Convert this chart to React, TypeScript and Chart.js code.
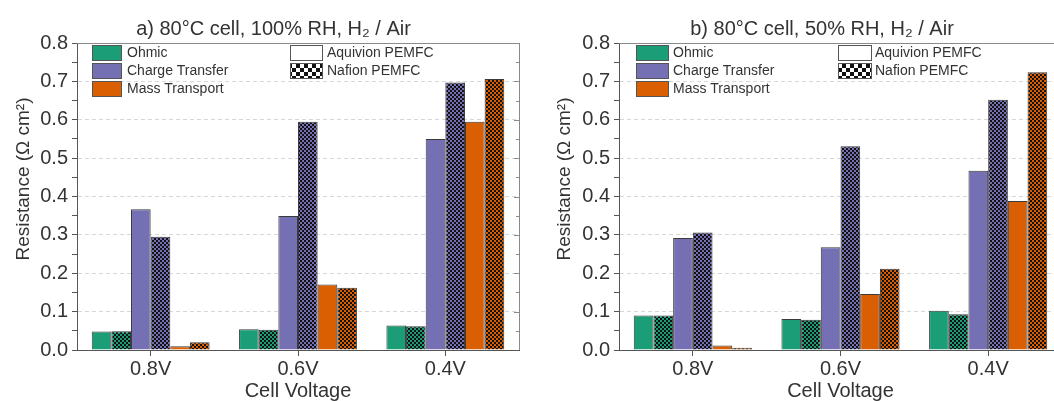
import React, { useEffect, useRef } from "react";
import { Chart, registerables } from "chart.js";

Chart.register(...registerables);

// ---------- data ----------
const categories = ["0.8V", "0.6V", "0.4V"];
const yMin = 0;
const yMax = 0.8;

// Panel a) 80°C, 100% RH
const aOhmicAquivion = [0.048, 0.054, 0.064];
const aOhmicNafion = [0.049, 0.053, 0.062];
const aChargeAquivion = [0.367, 0.349, 0.55];
const aChargeNafion = [0.295, 0.595, 0.697];
const aMassAquivion = [0.01, 0.171, 0.595];
const aMassNafion = [0.02, 0.162, 0.706];

// Panel b) 80°C, 50% RH
const bOhmicAquivion = [0.09, 0.081, 0.102];
const bOhmicNafion = [0.09, 0.079, 0.093];
const bChargeAquivion = [0.292, 0.268, 0.467];
const bChargeNafion = [0.306, 0.531, 0.652];
const bMassAquivion = [0.012, 0.146, 0.388];
const bMassNafion = [0.006, 0.212, 0.724];

const titleA = "a) 80°C cell, 100% RH, H₂ / Air";
const titleB = "b) 80°C cell, 50% RH, H₂ / Air";
const yTitle = "Resistance (Ω cm²)";
const xTitle = "Cell Voltage";
const componentLabels = ["Ohmic", "Charge Transfer", "Mass Transport"];
const membraneLabels = ["Aquivion PEMFC", "Nafion PEMFC"];

const COLORS = ["#1b9e77", "#7570b3", "#d95f02"];
const FONT = "'Liberation Sans', Arial, sans-serif";
const TEXT = "#333333";

function makeChecker(color: string, dark: string, cell: number) {
  const c = document.createElement("canvas");
  c.width = cell * 2;
  c.height = cell * 2;
  const g = c.getContext("2d")!;
  g.fillStyle = color;
  g.fillRect(0, 0, cell * 2, cell * 2);
  g.fillStyle = dark;
  g.fillRect(0, 0, cell, cell);
  g.fillRect(cell, cell, cell, cell);
  return g.createPattern(c, "repeat")!;
}

type Decor = {
  title: string;
  titleX: number;
  yTitleX: number;
  yTitleY: number;
  col1BoxX: number;
  col1BoxW: number;
  col1TextX: number;
  col2BoxX: number;
  col2BoxW: number;
  col2TextX: number;
};

function decorPlugin(d: Decor) {
  return {
    id: "decor",
    afterDraw(chart: any) {
      const ctx = chart.ctx as CanvasRenderingContext2D;
      const ca = chart.chartArea;
      const ys = chart.scales.y;
      ctx.save();
      // frame: top & right
      ctx.strokeStyle = "#8a8a8a";
      ctx.lineWidth = 1;
      ctx.beginPath();
      ctx.moveTo(ca.left, ca.top + 0.5);
      ctx.lineTo(ca.right, ca.top + 0.5);
      ctx.moveTo(ca.right + 0.5, ca.top);
      ctx.lineTo(ca.right + 0.5, ca.bottom);
      ctx.stroke();
      // right inner ticks
      ctx.beginPath();
      for (let i = 1; i < 16; i++) {
        const v = i * 0.05;
        const y = Math.round(ys.getPixelForValue(v)) + 0.5;
        const len = i % 2 === 0 ? 5 : 3;
        ctx.moveTo(ca.right, y);
        ctx.lineTo(ca.right - len, y);
      }
      ctx.stroke();

      ctx.fillStyle = TEXT;
      // title
      ctx.font = `20px ${FONT}`;
      ctx.textAlign = "center";
      ctx.textBaseline = "alphabetic";
      ctx.fillText(d.title, d.titleX, 35);
      // x title
      ctx.fillText(xTitle, (ca.left + ca.right) / 2, 397);
      // y title
      ctx.save();
      ctx.translate(d.yTitleX, d.yTitleY);
      ctx.rotate(-Math.PI / 2);
      ctx.font = `19px ${FONT}`;
      ctx.textBaseline = "middle";
      ctx.fillText(yTitle, 0, 0);
      ctx.restore();

      // legend
      ctx.font = `14px ${FONT}`;
      ctx.textAlign = "left";
      ctx.textBaseline = "middle";
      const rowTop = [45.5, 63.5, 81.5];
      const boxH = 15;
      componentLabels.forEach((lab, i) => {
        ctx.fillStyle = COLORS[i];
        ctx.fillRect(d.col1BoxX, rowTop[i], d.col1BoxW, boxH);
        ctx.strokeStyle = "#555";
        ctx.strokeRect(d.col1BoxX + 0.5, rowTop[i], d.col1BoxW - 1, boxH);
        ctx.fillStyle = TEXT;
        ctx.fillText(lab, d.col1TextX, rowTop[i] + boxH / 2 + 0.5);
      });
      membraneLabels.forEach((lab, i) => {
        if (i === 0) {
          ctx.fillStyle = "#ffffff";
        } else {
          ctx.fillStyle = makeChecker("#ffffff", "#111111", 4) as any;
        }
        ctx.fillRect(d.col2BoxX, rowTop[i], d.col2BoxW, boxH);
        ctx.strokeStyle = "#555";
        ctx.strokeRect(d.col2BoxX + 0.5, rowTop[i], d.col2BoxW - 1, boxH);
        ctx.fillStyle = TEXT;
        ctx.fillText(lab, d.col2TextX, rowTop[i] + boxH / 2 + 0.5);
      });
      ctx.restore();
    },
  };
}

function buildChart(
  canvas: HTMLCanvasElement,
  series: number[][],
  decor: Decor,
  yAxisWidth: number,
  rightPad: number
) {
  const patterns = COLORS.map((c) => makeChecker(c, "#111111", 2));
  const datasets = series.map((data, i) => {
    const comp = Math.floor(i / 2);
    const nafion = i % 2 === 1;
    return {
      label: `${componentLabels[comp]} ${membraneLabels[i % 2]}`,
      data,
      backgroundColor: nafion ? patterns[comp] : COLORS[comp],
      borderColor: "#3a3a3a",
      borderWidth: 1,
      barPercentage: 1.0,
      categoryPercentage: 0.8,
    };
  });
  return new Chart(canvas, {
    type: "bar",
    data: { labels: categories, datasets: datasets as any },
    options: {
      responsive: false,
      animation: false,
      devicePixelRatio: 1,
      layout: { padding: { top: 43, right: rightPad, left: 0, bottom: 0 } },
      plugins: { legend: { display: false }, tooltip: { enabled: false }, title: { display: false } },
      scales: {
        x: {
          grid: { display: true, drawOnChartArea: false, offset: false, tickLength: 6, tickColor: "#555", lineWidth: 1 },
          border: { color: "#555", width: 1 },
          ticks: { font: { size: 20, family: FONT }, color: TEXT, padding: 1 },
          afterFit: (s: any) => {
            s.height = 51;
          },
        },
        y: {
          min: yMin,
          max: yMax,
          ticks: {
            stepSize: 0.05,
            maxTicksLimit: 40,
            autoSkip: false,
            font: { size: 20, family: FONT },
            color: TEXT,
            padding: 4,
            callback: (v: any) => {
              const n = Math.round(Number(v) * 20);
              return n % 2 === 0 ? (n / 20).toFixed(1) : "";
            },
          },
          grid: {
            color: (c: any) => {
              const n = Math.round(c.tick.value * 20);
              return n % 2 === 0 && n > 0 && n < 16 ? "#d8d8d8" : "rgba(0,0,0,0)";
            },
            tickColor: "#555",
            tickLength: 5,
            lineWidth: 1,
          },
          border: { color: "#555", width: 1, dash: [4, 3] },
          afterFit: (s: any) => {
            s.width = yAxisWidth;
          },
        },
      },
    },
    plugins: [decorPlugin(decor)],
  });
}

export default function App() {
  const leftRef = useRef<HTMLCanvasElement>(null);
  const rightRef = useRef<HTMLCanvasElement>(null);

  useEffect(() => {
    Chart.defaults.font.family = FONT;
    const a = buildChart(
      leftRef.current!,
      [aOhmicAquivion, aOhmicNafion, aChargeAquivion, aChargeNafion, aMassAquivion, aMassNafion],
      {
        title: titleA,
        titleX: 273.5,
        yTitleX: 24,
        yTitleY: 179,
        col1BoxX: 92,
        col1BoxW: 30,
        col1TextX: 127,
        col2BoxX: 290,
        col2BoxW: 33,
        col2TextX: 327,
      },
      77,
      11
    );
    const b = buildChart(
      rightRef.current!,
      [bOhmicAquivion, bOhmicNafion, bChargeAquivion, bChargeNafion, bMassAquivion, bMassNafion],
      {
        title: titleB,
        titleX: 292,
        yTitleX: 35,
        yTitleY: 179,
        col1BoxX: 106,
        col1BoxW: 33,
        col1TextX: 143,
        col2BoxX: 308,
        col2BoxW: 34,
        col2TextX: 345,
      },
      89,
      13
    );
    return () => {
      a.destroy();
      b.destroy();
    };
  }, []);

  return (
    <div
      style={{
        position: "fixed",
        left: 0,
        top: 0,
        width: 1054,
        height: 401,
        overflow: "hidden",
        background: "#ffffff",
      }}
    >
      <canvas ref={leftRef} width={530} height={401} style={{ position: "absolute", left: 0, top: 0 }} />
      <canvas ref={rightRef} width={545} height={401} style={{ position: "absolute", left: 530, top: 0 }} />
    </div>
  );
}
